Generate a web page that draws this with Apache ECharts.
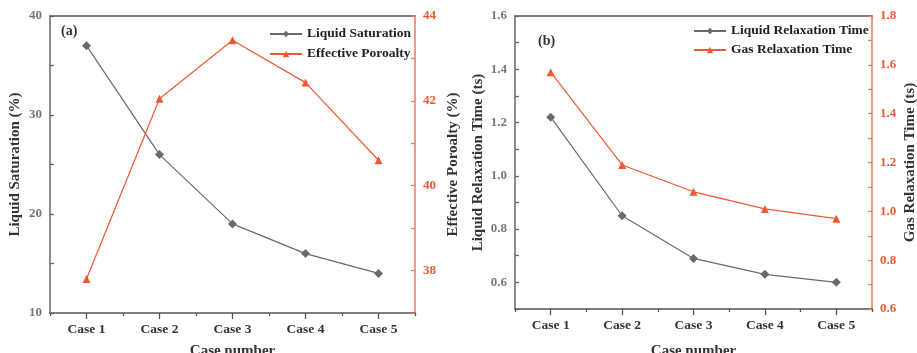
<!DOCTYPE html>
<html>
<head>
<meta charset="utf-8">
<script src="https://cdn.jsdelivr.net/npm/echarts@6/dist/echarts.min.js"></script>
<style>html,body{margin:0;padding:0;background:#fff;}#c{width:917px;height:353px;}</style>
</head>
<body>
<div id="c"></div>
<script>
const categories = ['Case 1', 'Case 2', 'Case 3', 'Case 4', 'Case 5'];
const liquidSaturation = [37.0, 26.0, 19.0, 16.0, 14.0];
const effectivePorosity = [37.8, 42.05, 43.43, 42.43, 40.6];
const liquidRelaxation = [1.22, 0.85, 0.69, 0.63, 0.60];
const gasRelaxation = [1.57, 1.19, 1.08, 1.01, 0.97];

const GREY = '#6a6a6a';
const ORANGE = '#ec5a34';
const ORANGE_AX = '#ee7a57';
const FONT = 'Liberation Serif';

const chart = echarts.init(document.getElementById('c'), null, {renderer: 'canvas'});

function xAxes(gridIndex, nameGap) {
  return [
    {
      type: 'category', gridIndex, data: categories, position: 'bottom', offset: 0,
      axisLine: {lineStyle: {color: '#555', width: 1.5}},
      axisTick: {show: true, alignWithLabel: true, inside: false, length: 6, lineStyle: {color: '#555', width: 1.3}},
      axisLabel: {color: '#333', fontFamily: FONT, fontWeight: 'bold', fontSize: 13.5, margin: 10},
      name: 'Case number', nameLocation: 'middle', nameGap,
      nameTextStyle: {color: '#333', fontFamily: FONT, fontWeight: 'bold', fontSize: 15},
      splitLine: {show: false}
    },
    {
      type: 'category', gridIndex, data: categories, position: 'bottom', offset: 0,
      axisLine: {show: false},
      axisTick: {show: true, alignWithLabel: false, length: 3, lineStyle: {color: '#555', width: 1.3}},
      axisLabel: {show: false}, splitLine: {show: false}
    },
    {
      type: 'category', gridIndex, data: categories, position: 'top', offset: 0,
      axisLine: {lineStyle: {color: '#555', width: 1.5}},
      axisTick: {show: false}, axisLabel: {show: false}, splitLine: {show: false}
    }
  ];
}

function yAxis(gridIndex, pos, min, max, interval, color, lineColor, name, nameGap, fmt) {
  return {
    type: 'value', gridIndex, position: pos, min, max, interval, offset: 0,
    axisLine: {show: true, lineStyle: {color: lineColor, width: 1.5}},
    axisTick: {show: true, inside: true, length: 4, lineStyle: {color: lineColor, width: 1.3}},
    axisLabel: {color, fontFamily: FONT, fontWeight: 'bold', fontSize: 13, margin: 8, formatter: fmt},
    splitLine: {show: false},
    name, nameLocation: 'middle', nameGap,
    nameTextStyle: {color: '#333', fontFamily: FONT, fontWeight: 'bold', fontSize: 15}
  };
}

const fmtEvery10 = v => (Math.round(v) % 10 === 0 ? String(Math.round(v)) : '');
const fmtEven = v => (Math.round(v) % 2 === 0 ? String(Math.round(v)) : '');
const fmtTenthsEven = v => (Math.round(v * 10) % 2 === 0 ? (Math.round(v * 10) / 10).toFixed(1) : '');

const option = {
  animation: false,
  backgroundColor: '#fff',
  grid: [
    {left: 50, right: 502, top: 16, bottom: 40, containLabel: false, outerBoundsMode: 'none'},
    {left: 515, right: 45, top: 16, bottom: 44, containLabel: false, outerBoundsMode: 'none'}
  ],
  xAxis: [...xAxes(0, 31), ...xAxes(1, 35)],
  yAxis: [
    yAxis(0, 'left', 10, 40, 5, '#777', '#666', 'Liquid Saturation (%)', 27, fmtEvery10),
    yAxis(0, 'right', 37, 44, 1, ORANGE, ORANGE_AX, 'Effective Poroalty (%)', 31, fmtEven),
    yAxis(1, 'left', 0.5, 1.6, 0.1, '#777', '#666', 'Liquid Relaxation Time (ts)', 29, fmtTenthsEven),
    yAxis(1, 'right', 0.6, 1.8, 0.1, ORANGE, ORANGE_AX, 'Gas Relaxation Time (ts)', 31, fmtTenthsEven)
  ],
  legend: [
    {
      data: ['Liquid Saturation', 'Effective Poroalty'], orient: 'vertical',
      left: 264, top: 22, itemWidth: 32, itemHeight: 8, itemGap: 6,
      textStyle: {color: '#222', fontFamily: FONT, fontWeight: 'bold', fontSize: 13.5}
    },
    {
      data: ['Liquid Relaxation Time', 'Gas Relaxation Time'], orient: 'vertical',
      left: 688, top: 19, itemWidth: 32, itemHeight: 8, itemGap: 5,
      textStyle: {color: '#222', fontFamily: FONT, fontWeight: 'bold', fontSize: 13.5}
    }
  ],
  graphic: [
    {type: 'text', left: 61, top: 24, style: {text: '(a)', fill: '#333', font: 'bold 14px "Liberation Serif"'}},
    {type: 'text', left: 538, top: 34, style: {text: '(b)', fill: '#333', font: 'bold 14px "Liberation Serif"'}}
  ],
  series: [
    {name: 'Liquid Saturation', type: 'line', xAxisIndex: 0, yAxisIndex: 0, data: liquidSaturation,
      symbol: 'diamond', symbolSize: 9, itemStyle: {color: GREY}, lineStyle: {color: GREY, width: 1.2}},
    {name: 'Effective Poroalty', type: 'line', xAxisIndex: 0, yAxisIndex: 1, data: effectivePorosity,
      symbol: 'triangle', symbolSize: 8, itemStyle: {color: ORANGE}, lineStyle: {color: ORANGE, width: 1.2}},
    {name: 'Liquid Relaxation Time', type: 'line', xAxisIndex: 3, yAxisIndex: 2, data: liquidRelaxation,
      symbol: 'diamond', symbolSize: 9, itemStyle: {color: GREY}, lineStyle: {color: GREY, width: 1.2}},
    {name: 'Gas Relaxation Time', type: 'line', xAxisIndex: 3, yAxisIndex: 3, data: gasRelaxation,
      symbol: 'triangle', symbolSize: 8, itemStyle: {color: ORANGE}, lineStyle: {color: ORANGE, width: 1.2}}
  ]
};
chart.setOption(option);
</script>
</body>
</html>
